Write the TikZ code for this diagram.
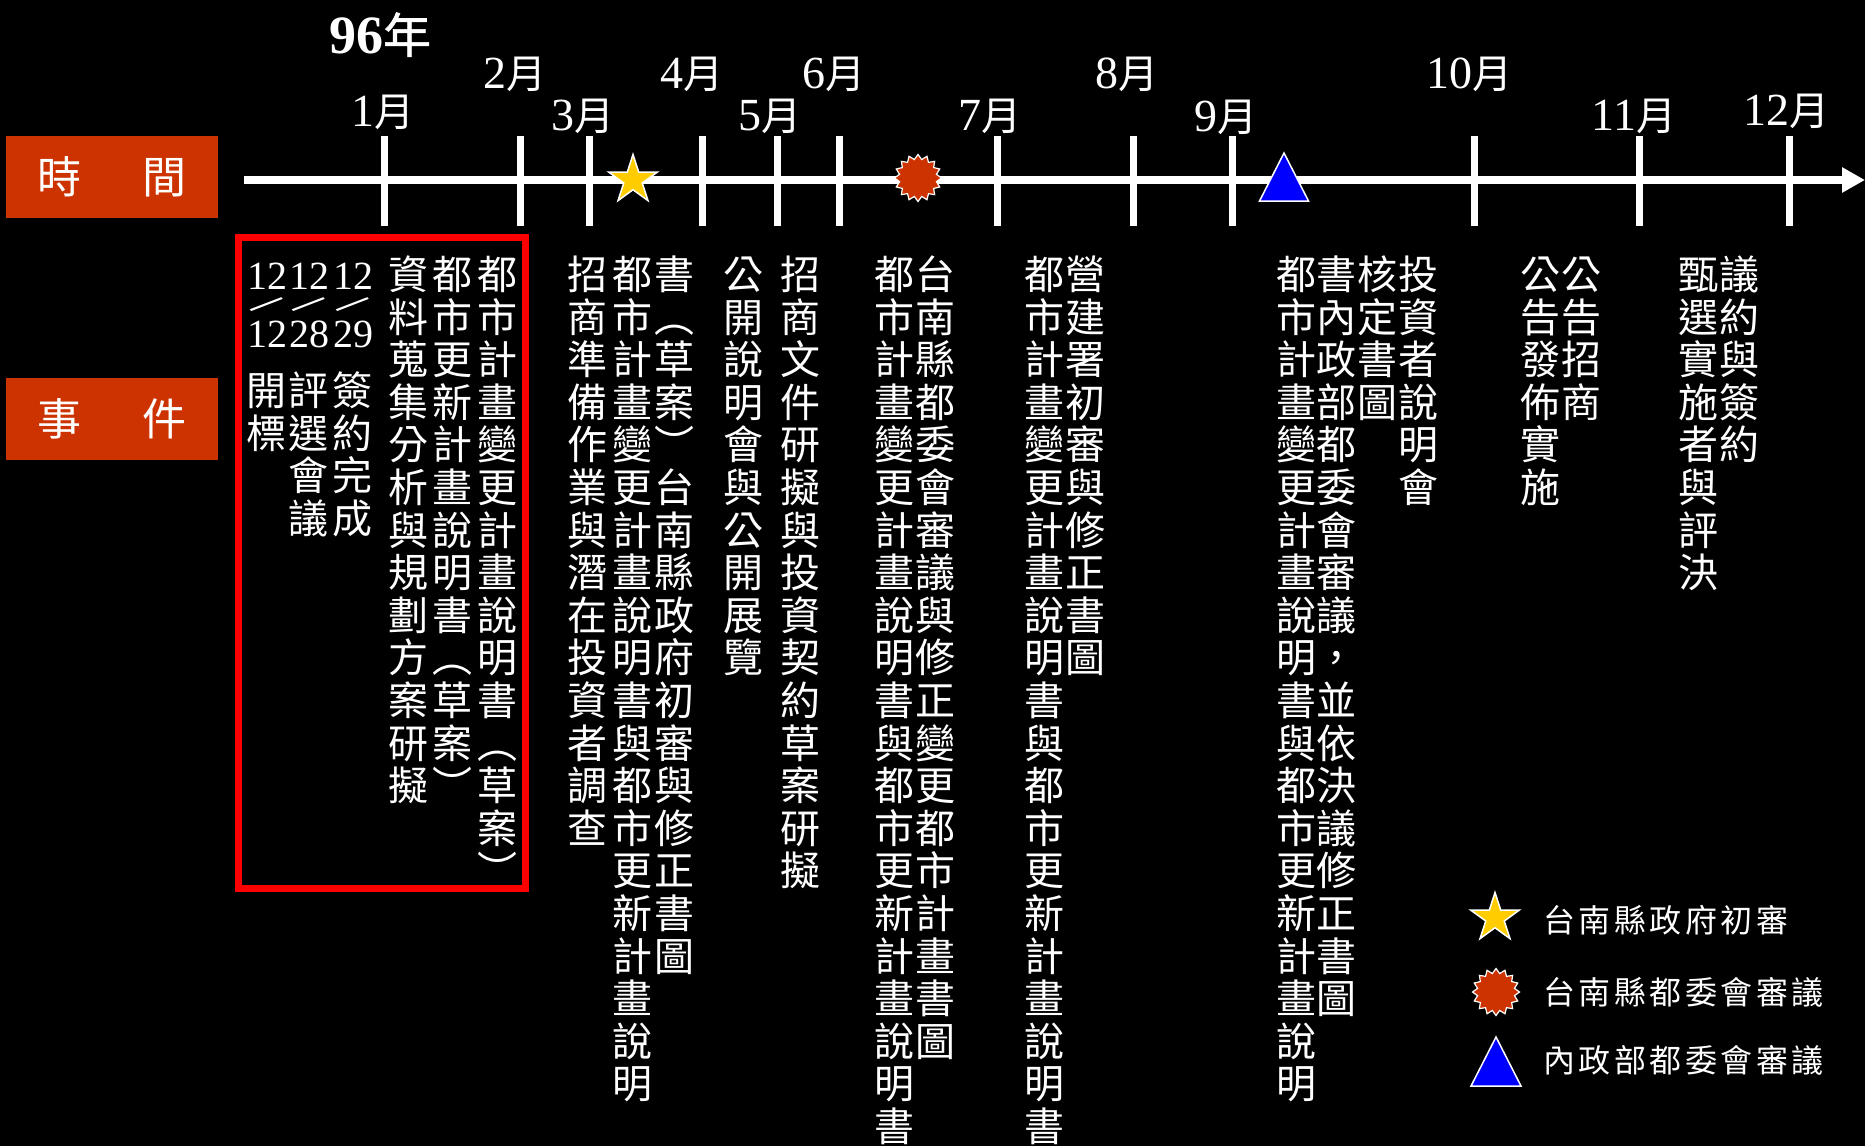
\documentclass[tikz,border=0pt]{standalone}
\usepackage{graphicx}
\usepackage{fontspec}
\setmainfont{Liberation Serif}
\newfontfamily\cjk{Noto Sans CJK TC}
\newfontfamily\cjkb[FakeBold=1.2]{Noto Sans CJK TC}
\newfontfamily\cjkls[LetterSpace=11]{Noto Sans CJK TC}
\usetikzlibrary{shapes.geometric,arrows.meta}
\definecolor{boxred}{HTML}{CC3300}
\definecolor{staryel}{HTML}{FFCC00}
\definecolor{triblue}{HTML}{0000FF}
\definecolor{framered}{HTML}{FF0000}
\newcommand\vcharbox[1]{\hbox to 40pt{\vrule height 35.2pt depth 4.8pt width 0pt\hss #1\hss}}
\ExplSyntaxOn
\NewDocumentCommand\vcoltext{m}{\vbox{\baselineskip=42.6pt\relax\lineskip=0pt\relax\lineskiplimit=-100pt\relax\tl_map_function:nN{#1}\vcharbox}}
\ExplSyntaxOff
\newcommand\monlbl[1]{{\fontsize{46}{50}\selectfont #1}{\cjk\fontsize{40}{44}\selectfont 月}}
\newcommand\datestack[2]{\vbox{\offinterlineskip\fontsize{40}{44}\selectfont
  \hbox to 40pt{\vrule height 28pt depth 0pt width 0pt\hss #1\hss}%
  \hbox to 40pt{\hss\vbox to 30pt{\vss\hbox{\fontsize{48}{50}\selectfont\rotatebox{-50}{/}}\vss}\hss}%
  \hbox to 40pt{\vrule height 28pt depth 0pt width 0pt\hss #2\hss}}}
\begin{document}
\begin{tikzpicture}[x=1pt,y=-1pt,
  every node/.style={text=white, inner sep=0pt},
  vcol/.style={anchor=north, font=\cjk\fontsize{40}{42.6}\selectfont},
  catbox/.style={fill=boxred, minimum width=212pt, minimum height=82pt, font=\cjk\fontsize{44}{48}\selectfont},
  monlab/.style={anchor=base},
  tickline/.style={draw=white, line width=7pt},
  axisline/.style={draw=white, line width=7.5pt, -{Triangle[length=23pt,width=24pt]}},
  datebox/.style={anchor=north},
  legtext/.style={anchor=west, font=\cjkls\fontsize{32}{36}\selectfont},
  starmark/.style={star, star points=5, star point ratio=2.618, minimum size=51pt, fill=staryel, draw=white, line width=1.5pt},
  burstmark/.style={star, star points=16, star point ratio=1.25, minimum size=47pt, fill=boxred, draw=white, line width=1.2pt},
  trimark/.style={fill=triblue, draw=white, line width=1.5pt},
]
\useasboundingbox (0,0) rectangle (1865,1146);
\fill[black] (0,0) rectangle (1865,1146);

% category boxes
\node[catbox] (timebox) at (112,177) {時\hskip 61pt 間};
\node[catbox] (eventbox) at (112,419) {事\hskip 61pt 件};

% year and months
\node[anchor=base] (year) at (380,53) {{\bfseries\fontsize{54}{58}\selectfont 96}{\cjkb\fontsize{48}{52}\selectfont 年}};
\node[monlab] (mo1) at (383,126) {\monlbl{1}};
\node[monlab] (mo2) at (515,88) {\monlbl{2}};
\node[monlab] (mo3) at (583,130) {\monlbl{3}};
\node[monlab] (mo4) at (692,88) {\monlbl{4}};
\node[monlab] (mo5) at (770,130) {\monlbl{5}};
\node[monlab] (mo6) at (834,88) {\monlbl{6}};
\node[monlab] (mo7) at (990,130) {\monlbl{7}};
\node[monlab] (mo8) at (1127,88) {\monlbl{8}};
\node[monlab] (mo9) at (1226,131) {\monlbl{9}};
\node[monlab] (mo10) at (1469,88) {\monlbl{10}};
\node[monlab] (mo11) at (1634,130) {\monlbl{11}};
\node[monlab] (mo12) at (1786,125) {\monlbl{12}};

% axis
\coordinate (axS) at (244,180);
\coordinate (axE) at (1865,180);
\draw[axisline] (axS) -- (axE);
\foreach \x in {384,520,589,702,777,839,997,1133,1232,1474,1639,1789}
  \draw[tickline] (\x,136) -- (\x,226);

% markers on axis
\node[starmark] (mkstar) at (633,180) {};
\node[burstmark] (mkburst) at (918,178) {};
\draw[trimark] (1259.5,201) -- (1284,153) -- (1308.5,201) -- cycle;

% red frame
\node[draw=framered, line width=7pt, minimum width=287pt, minimum height=651pt] (frame) at (381.5,562.5) {};

% date columns
\node[datebox] (d1) at (267,261) {\datestack{12}{12}};
\node[vcol] (d1t) at (266,370) {\vcoltext{開標}};
\node[datebox] (d2) at (309,261) {\datestack{12}{28}};
\node[vcol] (d2t) at (308,370) {\vcoltext{評選會議}};
\node[datebox] (d3) at (353,261) {\datestack{12}{29}};
\node[vcol] (d3t) at (352,370) {\vcoltext{簽約完成}};

% event columns
\node[vcol] (c01) at (497,254) {\vcoltext{都市計畫變更計畫說明書︵草案︶}};
\node[vcol] (c02) at (452,254) {\vcoltext{都市更新計畫說明書︵草案︶}};
\node[vcol] (c03) at (408,254) {\vcoltext{資料蒐集分析與規劃方案研擬}};
\node[vcol] (c04) at (587,254) {\vcoltext{招商準備作業與潛在投資者調查}};
\node[vcol] (c05) at (632,254) {\vcoltext{都市計畫變更計畫說明書與都市更新計畫說明}};
\node[vcol] (c06) at (674,254) {\vcoltext{書︵草案︶台南縣政府初審與修正書圖}};
\node[vcol] (c07) at (743,254) {\vcoltext{公開說明會與公開展覽}};
\node[vcol] (c08) at (800,254) {\vcoltext{招商文件研擬與投資契約草案研擬}};
\node[vcol] (c09) at (894,254) {\vcoltext{都市計畫變更計畫說明書與都市更新計畫說明書}};
\node[vcol] (c10) at (935,254) {\vcoltext{台南縣都委會審議與修正變更都市計畫書圖}};
\node[vcol] (c11) at (1044,254) {\vcoltext{都市計畫變更計畫說明書與都市更新計畫說明書}};
\node[vcol] (c12) at (1085,254) {\vcoltext{營建署初審與修正書圖}};
\node[vcol] (c13) at (1296,254) {\vcoltext{都市計畫變更計畫說明書與都市更新計畫說明}};
\node[vcol] (c14) at (1336,254) {\vcoltext{書內政部都委會審議，並依決議修正書圖}};
\node[vcol] (c15) at (1377,254) {\vcoltext{核定書圖}};
\node[vcol] (c16) at (1418,254) {\vcoltext{投資者說明會}};
\node[vcol] (c17) at (1540,254) {\vcoltext{公告發佈實施}};
\node[vcol] (c18) at (1581,254) {\vcoltext{公告招商}};
\node[vcol] (c19) at (1698,254) {\vcoltext{甄選實施者與評決}};
\node[vcol] (c20) at (1739,254) {\vcoltext{議約與簽約}};

% legend
\node[starmark] (lgstar) at (1495,918) {};
\node[burstmark] (lgburst) at (1496,992) {};
\draw[trimark] (1471,1086) -- (1496,1037) -- (1521,1086) -- cycle;
\node[legtext] (lg1) at (1543,920) {台南縣政府初審};
\node[legtext] (lg2) at (1543,992) {台南縣都委會審議};
\node[legtext] (lg3) at (1543,1060) {內政部都委會審議};
\end{tikzpicture}
\end{document}
